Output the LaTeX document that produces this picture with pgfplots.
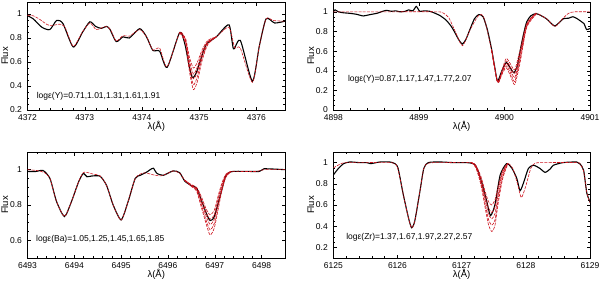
\documentclass[border=0pt]{standalone}
\usepackage{fontspec}
\setmainfont{Liberation Sans}
\usepackage{pgfplots}
\pgfplotsset{compat=1.18}
\definecolor{mred}{RGB}{205,20,30}
\pgfplotsset{
  spec/.style={
    scale only axis, anchor=south west,
    tick align=inside,
    minor x tick num=4, minor y tick num=3,
    /pgf/number format/assume math mode=true,
    /pgf/number format/set thousands separator={},
    ticklabel style={font=\fontsize{8.5}{10}\selectfont},
    yticklabel style={xshift=-2pt},
    xticklabel style={yshift=-1.5pt},
    label style={font=\fontsize{9.5}{11}\selectfont},
    ylabel={Flux}, xlabel={λ(Å)},
    ylabel style={at={(axis description cs:-0.088,0.5)}, anchor=center},
    xlabel style={at={(axis description cs:0.5,-0.155)}, anchor=center},
    major tick length=3.5pt, minor tick length=2pt,
    every tick/.style={black, line width=0.4pt},
    axis line style={line width=0.5pt},
  },
  obs/.style={black, line width=1.1pt, smooth, tension=0.4},
  mod/.style={mred, line width=0.6pt, dash pattern=on 3pt off 1.2pt, smooth, tension=0.4},
}
\newcommand{\annfont}{\fontsize{8.5}{10}\selectfont}
\begin{document}
\begin{tikzpicture}
\useasboundingbox (0,0) rectangle (600pt,282pt);
% ---------------- Panel 1 ----------------
\begin{axis}[spec, at={(27.5pt,172pt)}, width=257.5pt, height=108pt,
  xmin=4372, xmax=4376.5, ymin=0.2, ymax=1.1,
  xtick={4372,4373,4374,4375,4376}, ytick={0.2,0.4,0.6,0.8,1}]
\addplot[obs] coordinates {
(4372.00,0.985)(4372.10,0.96)(4372.25,0.89)(4372.39,0.87)(4372.51,0.947)(4372.62,0.92)
(4372.80,0.725)(4372.96,0.847)(4373.09,0.935)(4373.19,0.897)(4373.29,0.88)(4373.38,0.897)
(4373.44,0.873)(4373.55,0.77)(4373.67,0.81)(4373.78,0.80)(4373.96,0.878)(4374.08,0.81)
(4374.19,0.697)(4374.31,0.69)(4374.44,0.555)(4374.66,0.847)(4374.75,0.75)(4374.82,0.58)
(4374.88,0.47)(4374.94,0.50)(4375.00,0.58)(4375.12,0.744)(4375.30,0.81)(4375.52,0.91)
(4375.60,0.71)(4375.72,0.78)(4375.93,0.44)(4376.05,0.73)(4376.17,0.96)(4376.32,0.925)
(4376.50,0.94)};
\addplot[mod] coordinates {
(4372.00,0.99)(4372.10,0.985)(4372.20,0.96)(4372.35,0.91)(4372.45,0.905)(4372.55,0.915)
(4372.65,0.895)(4372.80,0.73)(4372.96,0.85)(4373.09,0.925)(4373.20,0.87)(4373.30,0.885)
(4373.38,0.895)(4373.45,0.87)(4373.55,0.775)(4373.67,0.82)(4373.78,0.815)(4373.96,0.87)
(4374.08,0.81)(4374.19,0.70)(4374.31,0.715)(4374.44,0.56)(4374.66,0.845)
(4374.76,0.78)(4374.83,0.58)(4374.90,0.46)(4374.97,0.52)(4375.05,0.66)(4375.15,0.765)
(4375.30,0.81)(4375.52,0.89)(4375.62,0.72)(4375.72,0.715)(4375.93,0.43)(4376.05,0.73)
(4376.17,0.96)(4376.30,0.945)(4376.50,0.94)};
\addplot[mod] coordinates {(4374.66,0.845)(4374.76,0.80)(4374.83,0.64)(4374.90,0.55)(4374.97,0.60)(4375.05,0.70)(4375.15,0.78)(4375.30,0.81)};
\addplot[mod] coordinates {(4374.66,0.845)(4374.76,0.79)(4374.83,0.61)(4374.90,0.50)(4374.97,0.56)(4375.05,0.68)(4375.15,0.77)(4375.30,0.81)};
\addplot[mod] coordinates {(4374.66,0.845)(4374.76,0.77)(4374.83,0.55)(4374.90,0.41)(4374.97,0.48)(4375.05,0.63)(4375.15,0.755)(4375.30,0.81)};
\addplot[mod] coordinates {(4374.66,0.845)(4374.76,0.76)(4374.83,0.52)(4374.90,0.37)(4374.97,0.44)(4375.05,0.61)(4375.15,0.745)(4375.30,0.81)};
\node[anchor=west, font=\annfont, inner sep=0pt] at (axis cs:4372.16,0.313) {logε(Y)=0.71,1.01,1.31,1.61,1.91};
\end{axis}
% ---------------- Panel 2 ----------------
\begin{axis}[spec, at={(333.3pt,172pt)}, width=256.7pt, height=108pt,
  xmin=4898, xmax=4901, ymin=0, ymax=1.1,
  xtick={4898,4899,4900,4901}, ytick={0,0.2,0.4,0.6,0.8,1}]
\addplot[obs] coordinates {
(4898.00,1.00)(4898.02,1.02)(4898.06,1.0)(4898.12,0.99)(4898.19,0.985)(4898.27,0.975)
(4898.35,0.958)(4898.42,0.97)(4898.51,0.985)(4898.56,1.0)(4898.62,1.015)(4898.68,1.005)
(4898.73,1.01)(4898.78,1.0)(4898.84,1.005)(4898.88,1.02)(4898.93,1.01)(4898.97,1.055)
(4899.01,1.005)(4899.06,1.01)(4899.13,1.005)(4899.19,0.985)(4899.25,0.96)(4899.32,0.914)
(4899.38,0.85)(4899.42,0.79)(4899.47,0.71)(4899.51,0.672)(4899.55,0.72)(4899.60,0.827)
(4899.65,0.93)(4899.70,0.972)(4899.75,0.95)(4899.80,0.82)(4899.85,0.62)(4899.89,0.42)
(4899.92,0.293)(4899.97,0.40)(4900.02,0.483)(4900.06,0.44)(4900.11,0.38)(4900.15,0.45)
(4900.18,0.586)(4900.22,0.76)(4900.26,0.897)(4900.31,0.96)(4900.37,0.982)(4900.43,0.96)
(4900.49,0.93)(4900.55,0.88)(4900.59,0.855)(4900.64,0.89)(4900.69,0.93)(4900.75,0.935)
(4900.80,0.95)(4900.85,0.93)(4900.90,0.90)(4900.93,0.88)(4900.96,0.82)(4901.00,0.83)};
\addplot[mod] coordinates {
(4898.00,1.0)(4898.60,1.0)(4899.20,1.0)(4899.28,0.99)(4899.35,0.94)(4899.43,0.79)
(4899.51,0.655)(4899.60,0.82)(4899.70,0.965)(4899.76,0.94)(4899.85,0.61)(4899.92,0.285)
(4899.97,0.38)(4900.02,0.475)(4900.07,0.41)(4900.12,0.33)(4900.18,0.53)(4900.26,0.86)
(4900.37,0.98)(4900.49,0.93)(4900.59,0.85)(4900.68,0.93)(4900.75,0.985)(4900.82,1.0)
(4901.00,1.0)};
\addplot[mod] coordinates {(4899.85,0.61)(4899.92,0.285)(4899.97,0.40)(4900.02,0.525)(4900.07,0.47)(4900.12,0.41)(4900.18,0.60)(4900.26,0.88)(4900.37,0.99)};
\addplot[mod] coordinates {(4899.85,0.61)(4899.92,0.285)(4899.97,0.39)(4900.02,0.50)(4900.07,0.44)(4900.12,0.37)(4900.18,0.56)(4900.26,0.87)(4900.37,0.985)};
\addplot[mod] coordinates {(4899.85,0.61)(4899.92,0.285)(4899.97,0.37)(4900.02,0.45)(4900.07,0.38)(4900.12,0.29)(4900.18,0.50)(4900.26,0.85)(4900.37,0.98)};
\addplot[mod] coordinates {(4899.85,0.61)(4899.92,0.28)(4899.97,0.36)(4900.02,0.43)(4900.07,0.35)(4900.12,0.26)(4900.18,0.47)(4900.26,0.84)(4900.37,0.975)};
\node[anchor=west, font=\annfont, inner sep=0pt] at (axis cs:4898.17,0.31) {logε(Y)=0.87,1.17,1.47,1.77,2.07};
\end{axis}
% ---------------- Panel 3 ----------------
\begin{axis}[spec, at={(27.5pt,24pt)}, width=257.5pt, height=106pt,
  xmin=6493, xmax=6498.5, ymin=0.5, ymax=1.1,
  xtick={6493,6494,6495,6496,6497,6498}, ytick={0.6,0.8,1}]
\addplot[obs] coordinates {
(6493.00,0.99)(6493.19,0.99)(6493.33,0.996)(6493.48,0.95)(6493.62,0.82)(6493.79,0.735)
(6493.94,0.82)(6494.09,0.93)(6494.19,0.978)(6494.27,0.96)(6494.37,0.964)(6494.55,0.963)
(6494.69,0.91)(6494.83,0.80)(6495.00,0.716)(6495.15,0.82)(6495.30,0.95)(6495.41,0.968)
(6495.55,0.987)(6495.62,1.0)(6495.69,1.008)(6495.76,0.98)(6495.90,0.968)(6496.11,0.993)
(6496.25,0.983)(6496.36,0.935)(6496.50,0.91)(6496.61,0.897)(6496.71,0.83)(6496.82,0.753)
(6496.90,0.712)(6496.99,0.735)(6497.14,0.875)(6497.24,0.968)(6497.39,0.99)(6497.95,0.99)
(6498.05,1.005)(6498.50,1.0)};
\addplot[mod] coordinates {
(6493.00,1.0)(6493.20,0.995)(6493.35,0.985)(6493.48,0.95)(6493.62,0.82)(6493.79,0.735)
(6493.94,0.82)(6494.09,0.93)(6494.20,0.985)(6494.40,0.975)(6494.55,0.965)(6494.69,0.91)
(6494.83,0.80)(6495.00,0.715)(6495.15,0.82)(6495.30,0.95)(6495.45,0.98)(6495.55,0.98)
(6495.70,0.97)(6495.85,0.965)(6496.00,0.98)(6496.11,0.993)(6496.25,0.98)(6496.36,0.94)
(6496.50,0.91)(6496.61,0.89)(6496.71,0.82)(6496.82,0.735)(6496.90,0.69)(6496.99,0.72)
(6497.08,0.825)(6497.16,0.91)(6497.24,0.968)(6497.35,0.99)(6497.50,0.99)(6497.90,0.99)
(6498.05,1.0)(6498.50,1.0)};
\addplot[mod] coordinates {(6496.36,0.94)(6496.50,0.915)(6496.61,0.90)(6496.71,0.85)(6496.82,0.775)(6496.90,0.745)(6496.99,0.77)(6497.08,0.86)(6497.16,0.93)(6497.24,0.975)(6497.35,0.99)};
\addplot[mod] coordinates {(6496.36,0.94)(6496.50,0.913)(6496.61,0.895)(6496.71,0.835)(6496.82,0.755)(6496.90,0.72)(6496.99,0.745)(6497.08,0.845)(6497.16,0.92)(6497.24,0.972)(6497.35,0.99)};
\addplot[mod] coordinates {(6496.36,0.94)(6496.50,0.907)(6496.61,0.885)(6496.71,0.805)(6496.82,0.71)(6496.90,0.66)(6496.99,0.695)(6497.08,0.805)(6497.16,0.90)(6497.24,0.963)(6497.35,0.99)};
\addplot[mod] coordinates {(6496.36,0.94)(6496.50,0.905)(6496.61,0.88)(6496.71,0.79)(6496.82,0.69)(6496.90,0.63)(6496.99,0.67)(6497.08,0.785)(6497.16,0.89)(6497.24,0.958)(6497.35,0.99)};
\node[anchor=west, font=\annfont, inner sep=0pt] at (axis cs:6493.18,0.604) {logε(Ba)=1.05,1.25,1.45,1.65,1.85};
\end{axis}
% ---------------- Panel 4 ----------------
\begin{axis}[spec, at={(333.3pt,24pt)}, width=256.7pt, height=106pt,
  xmin=6125, xmax=6129, ymin=0.1, ymax=1.1,
  xtick={6125,6126,6127,6128,6129}, ytick={0.2,0.4,0.6,0.8,1}]
\addplot[obs] coordinates {
(6125.00,0.883)(6125.08,0.945)(6125.16,0.99)(6125.26,1.006)(6125.40,1.0)(6125.52,1.0)
(6125.58,0.99)(6125.73,1.006)(6125.88,1.006)(6125.96,0.99)(6126.01,0.945)(6126.09,0.70)
(6126.17,0.483)(6126.22,0.385)(6126.27,0.45)(6126.35,0.73)(6126.41,0.945)(6126.48,1.0)
(6126.66,1.006)(6126.87,1.0)(6127.08,1.0)(6127.18,0.99)(6127.23,0.96)(6127.31,0.82)
(6127.39,0.637)(6127.45,0.50)(6127.52,0.606)(6127.60,0.883)(6127.70,0.99)(6127.78,0.95)
(6127.86,0.85)(6127.91,0.735)(6127.97,0.82)(6128.04,0.945)(6128.12,0.975)(6128.22,0.945)
(6128.30,0.908)(6128.38,0.94)(6128.43,0.975)(6128.58,1.0)(6128.79,1.006)(6128.84,0.99)
(6128.90,0.93)(6128.95,0.714)(6129.00,0.63)};
\addplot[mod] coordinates {
(6125.00,0.95)(6125.06,0.97)(6125.12,0.99)(6125.20,1.0)(6125.50,1.0)(6125.90,1.0)
(6126.00,0.955)(6126.09,0.70)(6126.17,0.48)(6126.22,0.385)(6126.27,0.45)(6126.35,0.73)
(6126.41,0.945)(6126.48,0.995)(6126.70,1.0)(6127.15,1.0)(6127.22,0.965)(6127.30,0.83)
(6127.37,0.64)(6127.42,0.51)(6127.47,0.47)(6127.52,0.52)(6127.57,0.70)(6127.64,0.89)
(6127.72,0.99)(6127.80,0.94)(6127.87,0.80)(6127.93,0.67)(6128.00,0.78)(6128.08,0.95)
(6128.15,0.995)(6128.30,1.0)(6128.80,1.0)(6128.85,0.98)(6128.90,0.92)(6128.95,0.72)
(6129.00,0.62)};
\addplot[mod] coordinates {(6127.15,1.0)(6127.22,0.975)(6127.30,0.87)(6127.37,0.72)(6127.42,0.63)(6127.47,0.60)(6127.52,0.65)(6127.57,0.78)(6127.64,0.93)(6127.72,0.995)};
\addplot[mod] coordinates {(6127.15,1.0)(6127.22,0.97)(6127.30,0.85)(6127.37,0.68)(6127.42,0.57)(6127.47,0.53)(6127.52,0.58)(6127.57,0.74)(6127.64,0.91)(6127.72,0.993)};
\addplot[mod] coordinates {(6127.15,1.0)(6127.22,0.96)(6127.30,0.81)(6127.37,0.60)(6127.42,0.46)(6127.47,0.41)(6127.52,0.46)(6127.57,0.66)(6127.64,0.87)(6127.72,0.99)};
\addplot[mod] coordinates {(6127.15,1.0)(6127.22,0.955)(6127.30,0.79)(6127.37,0.56)(6127.42,0.41)(6127.47,0.35)(6127.52,0.41)(6127.57,0.62)(6127.64,0.85)(6127.72,0.99)};
\node[anchor=west, font=\annfont, inner sep=0pt] at (axis cs:6125.2,0.293) {logε(Zr)=1.37,1.67,1.97,2.27,2.57};
\end{axis}
\end{tikzpicture}
\end{document}
